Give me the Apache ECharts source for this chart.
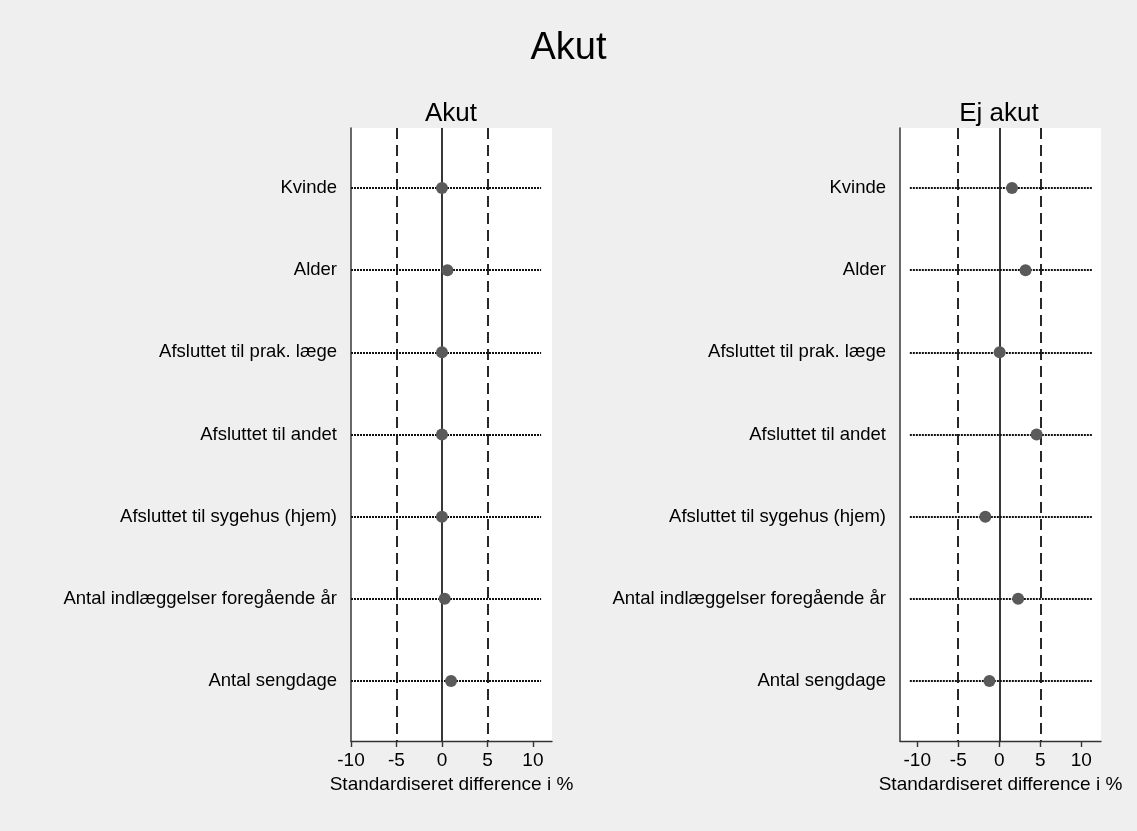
<!DOCTYPE html>
<html>
<head>
<meta charset="utf-8">
<script src="https://cdn.jsdelivr.net/npm/echarts@6/dist/echarts.min.js"></script>
<style>
html,body{margin:0;padding:0;background:#efefef;}
#main{width:1137px;height:831px;}
</style>
</head>
<body>
<div id="main"></div>
<script>
const categories = ['Kvinde', 'Alder', 'Afsluttet til prak. læge', 'Afsluttet til andet', 'Afsluttet til sygehus (hjem)', 'Antal indlæggelser foregående år', 'Antal sengdage'];
const akutValues = [0.0, 0.6, 0.0, 0.0, 0.0, 0.3, 1.0];
const ejAkutValues = [1.55, 3.2, 0.05, 4.55, -1.7, 2.3, -1.2];
const xTicks = [-10, -5, 0, 5, 10];
const dashedRefs = [-5, 5];
const solidRef = 0;
const akutAxisRange = [-10, 12.1];
const ejAkutAxisRange = [-12.1, 12.4];
const akutDotRange = [-10, 10.9];
const ejAkutDotRange = [-10.9, 11.3];
const mainTitle = 'Akut';
const panelTitles = ['Akut', 'Ej akut'];
const xName = 'Standardiseret difference i %';

const FONT = 'Liberation Sans, Arial, sans-serif';
const rowPos = categories.map((c, i) => i + 1);

const chart = echarts.init(document.getElementById('main'), null, {renderer: 'canvas'});

function xAxisCfg(gi, range) {
  return {
    type: 'value', gridIndex: gi, min: range[0], max: range[1],
    name: xName, nameLocation: 'middle', nameGap: 26,
    nameTextStyle: {fontFamily: FONT, fontSize: 19, color: '#000'},
    axisLine: {show: true, onZero: false, lineStyle: {color: '#333', width: 1.4}},
    axisTick: {show: true, length: 6, customValues: xTicks, lineStyle: {color: '#333', width: 1.4}},
    axisLabel: {customValues: xTicks, fontFamily: FONT, fontSize: 19, color: '#000', margin: 10},
    splitLine: {show: false}
  };
}
function yAxisCfg(gi) {
  return {
    type: 'value', gridIndex: gi, min: 0.27, max: 7.73, inverse: true,
    axisLine: {show: true, onZero: false, lineStyle: {color: '#444', width: 1.6}},
    axisTick: {show: false},
    axisLabel: {
      customValues: rowPos, fontFamily: FONT, fontSize: 18.5, color: '#000', margin: 14,
      formatter: v => categories[Math.round(v) - 1]
    },
    splitLine: {show: false}
  };
}
function refSeries(gi, dotRange) {
  const lines = [];
  dashedRefs.forEach(v => lines.push({xAxis: v, lineStyle: {type: [11, 6], color: '#111', width: 1.8}}));
  lines.push({xAxis: solidRef, lineStyle: {type: 'solid', color: '#222', width: 1.8}});
  rowPos.forEach(p => lines.push([
    {coord: [dotRange[0], p], lineStyle: {type: [2, 1], color: '#111', width: 2}},
    {coord: [dotRange[1], p]}
  ]));
  return {
    type: 'scatter', xAxisIndex: gi, yAxisIndex: gi, data: [], z: 1, silent: true,
    markLine: {symbol: 'none', silent: true, label: {show: false}, animation: false, data: lines}
  };
}
function dotSeries(gi, vals) {
  return {
    type: 'scatter', xAxisIndex: gi, yAxisIndex: gi, z: 5,
    symbol: 'circle', symbolSize: 12,
    itemStyle: {color: '#5a5a5a', opacity: 1},
    data: vals.map((v, i) => [v, rowPos[i]])
  };
}

const grids = [
  {left: 351, top: 128, width: 201, height: 613},
  {left: 900, top: 128, width: 201, height: 613}
];

chart.setOption({
  backgroundColor: '#efefef',
  animation: false,
  title: [
    {text: mainTitle, left: 'center', top: 25, textStyle: {fontFamily: FONT, fontSize: 38, fontWeight: 'normal', color: '#000'}},
    {text: panelTitles[0], left: 446, textAlign: 'center', top: 96, textStyle: {fontFamily: FONT, fontSize: 26, fontWeight: 'normal', color: '#000'}},
    {text: panelTitles[1], left: 994, textAlign: 'center', top: 96, textStyle: {fontFamily: FONT, fontSize: 26, fontWeight: 'normal', color: '#000'}}
  ],
  grid: grids.map(g => Object.assign({show: true, backgroundColor: '#fff', borderWidth: 0}, g)),
  xAxis: [xAxisCfg(0, akutAxisRange), xAxisCfg(1, ejAkutAxisRange)],
  yAxis: [yAxisCfg(0), yAxisCfg(1)],
  series: [
    refSeries(0, akutDotRange), dotSeries(0, akutValues),
    refSeries(1, ejAkutDotRange), dotSeries(1, ejAkutValues)
  ]
});
</script>
</body>
</html>
